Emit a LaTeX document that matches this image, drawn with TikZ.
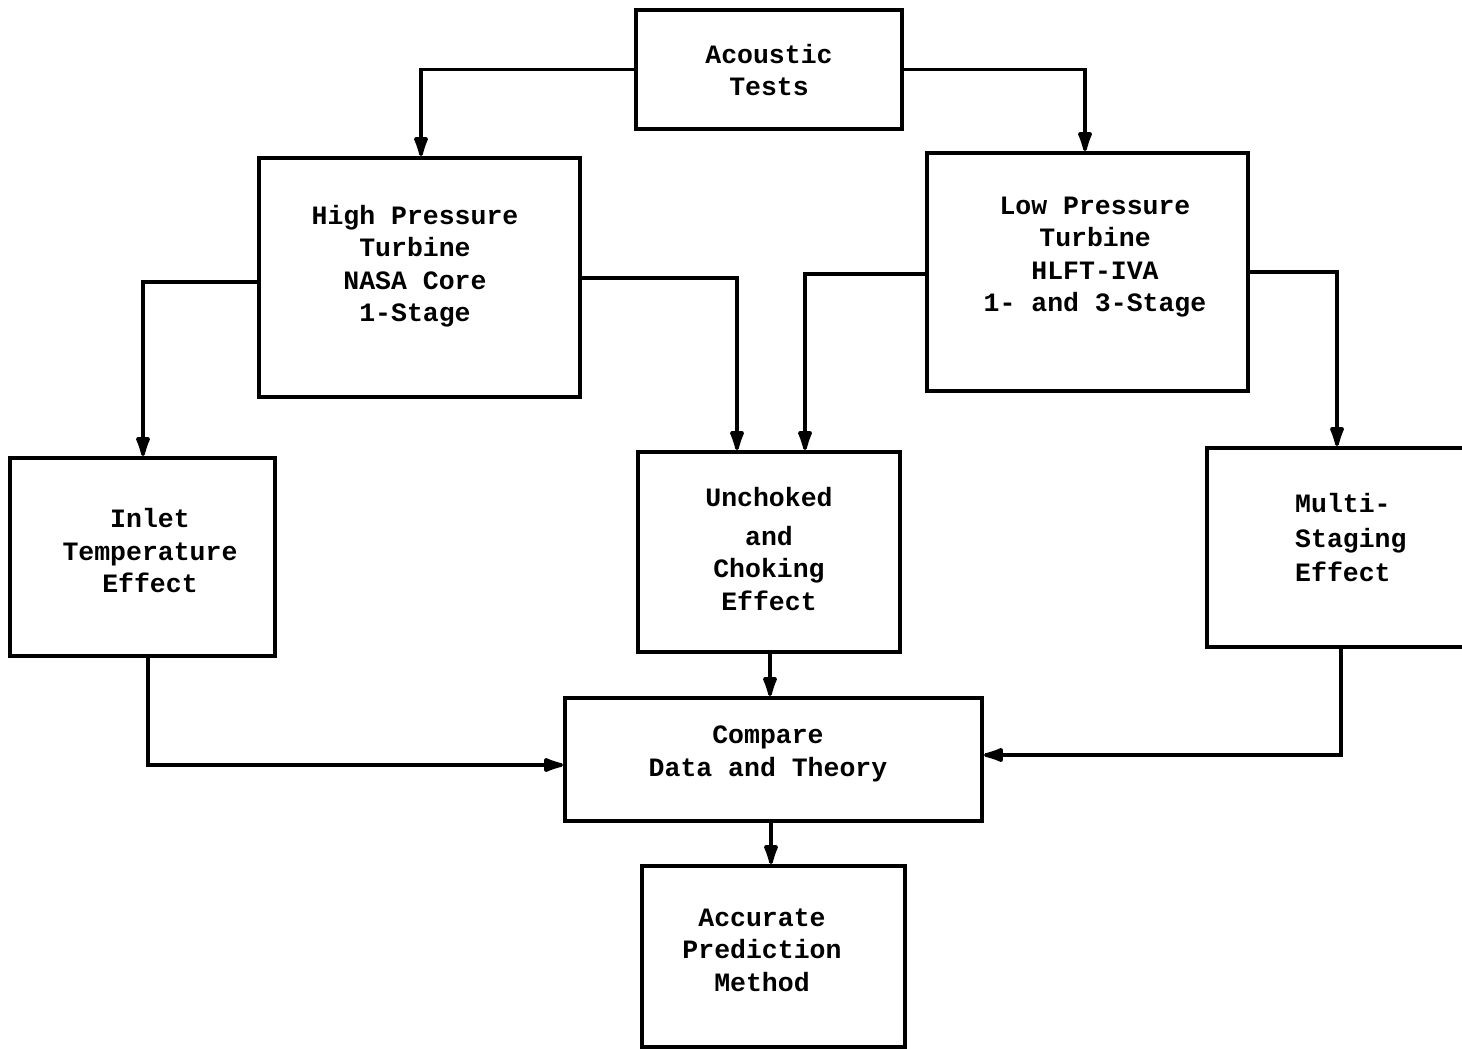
\documentclass[tikz,border=0pt]{standalone}
\usepackage{fontspec}
\setmonofont{Liberation Mono}
\usetikzlibrary{arrows.meta}
\tikzset{
  box/.style={draw, line width=4pt, inner sep=0pt, rectangle},
  txt/.style={font=\ttfamily\bfseries\fontsize{26.5}{32.5}\selectfont, align=center, inner sep=0pt},
  conn/.style={line width=3.6pt, -{Latex[length=26pt,width=16pt,round]}},
}
\begin{document}
\begin{tikzpicture}[x=1pt,y=-1pt]
\useasboundingbox (0,0) rectangle (1462,1049);
\clip (0,0) rectangle (1462,1049);
\fill[white] (0,0) rectangle (1462,1049);
% boxes
\node[box, minimum width=266pt, minimum height=119pt] (ac) at (769,69.5) {};
\node[box, minimum width=321pt, minimum height=239pt] (hp) at (419.5,277.5) {};
\node[box, minimum width=321pt, minimum height=238pt] (lp) at (1087.5,272) {};
\node[box, minimum width=265pt, minimum height=198pt] (in) at (142.5,557) {};
\node[box, minimum width=262pt, minimum height=200pt] (un) at (769,552) {};
\node[box, minimum width=270pt, minimum height=199pt] (ms) at (1342,547.5) {};
\node[box, minimum width=417pt, minimum height=123pt] (cp) at (773.5,759.5) {};
\node[box, minimum width=263pt, minimum height=181pt] (am) at (773.5,956.5) {};
% texts
\node[txt] (tac) at (769,70) {Acoustic\\Tests};
\node[txt] (thp) at (415,266) {High Pressure\\Turbine\\NASA Core\\1-Stage};
\node[txt] (tlp) at (1095,257) {Low Pressure\\Turbine\\HLFT-IVA\\1- and 3-Stage};
\node[txt] (tin) at (150,551) {Inlet\\Temperature\\Effect};
\node[txt] (tun) at (769,549) {Unchoked\\[6pt]and\\Choking\\Effect};
\node[txt, align=left, anchor=west] (tms) at (1295,538) {Multi-\\[2pt]Staging\\[2pt]Effect};
\node[txt] (tcp) at (768,754) {Compare\\Data and Theory};
\node[txt] (tam) at (762,950) {Accurate\\Prediction\\Method};
% connectors
\draw[conn] (ac.west) -| (hp.north -| 421,0);
\draw[conn] (ac.east) -| (lp.north -| 1085,0);
\draw[conn] (hp.west |- 0,282) -| (in.north -| 143,0);
\draw[conn] (hp.east |- 0,278) -| (un.north -| 737,0);
\draw[conn] (lp.west |- 0,274) -| (un.north -| 805,0);
\draw[conn] (lp.east |- 0,272) -| (ms.north -| 1337,0);
\draw[conn] (in.south -| 148,0) |- (cp.west |- 0,765);
\draw[conn] (un.south -| 770,0) -- (cp.north -| 770,0);
\draw[conn] (ms.south -| 1341,0) |- (cp.east |- 0,755);
\draw[conn] (cp.south -| 771,0) -- (am.north -| 771,0);
\end{tikzpicture}
\end{document}
